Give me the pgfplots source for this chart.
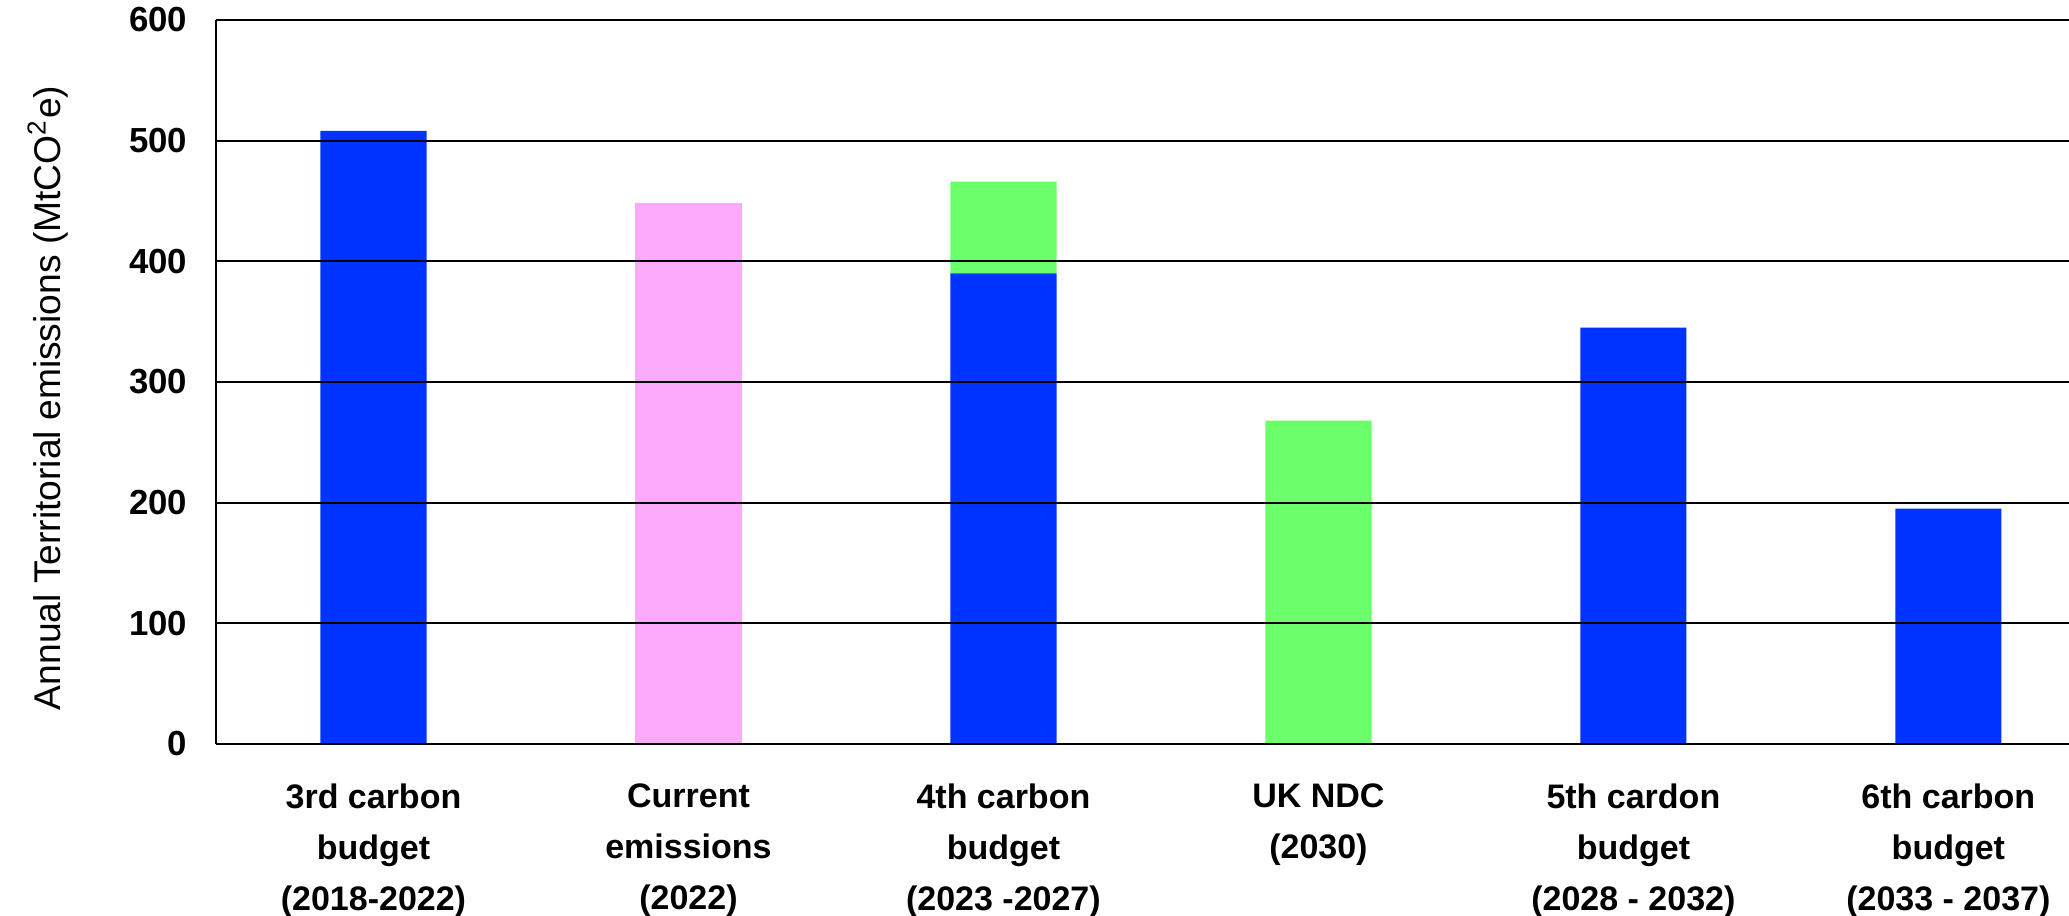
\documentclass[border=0pt]{standalone}
\usepackage{pgfplots}
\pgfplotsset{compat=1.18}
\usepackage{fontspec}
\setmainfont{Liberation Sans}

\definecolor{budgetblue}{RGB}{0,51,255}
\definecolor{currentpink}{RGB}{251,169,251}
\definecolor{ndcgreen}{RGB}{107,255,105}

\begin{document}
\begin{tikzpicture}
\begin{axis}[
  at={(0pt,0pt)}, anchor=south west,
  scale only axis,
  width=463.25pt, height=181pt,
  ybar stacked,
  bar width=0.337,
  xmin=-0.5, xmax=5.383,
  ymin=0, ymax=600,
  xtick={0,1,2,3,4,5},
  ytick={0,100,200,300,400,500,600},
  xticklabels={
    3rd carbon\\budget\\(2018-2022),
    Current\\emissions\\(2022),
    4th carbon\\budget\\(2023 -2027),
    UK NDC\\(2030),
    5th cardon\\budget\\(2028 - 2032),
    6th carbon\\budget\\(2033 - 2037)},
  axis x line*=bottom,
  axis y line*=left,
  axis line style={black, line width=0.5pt},
  ymajorgrids,
  grid style={black, line width=0.5pt},
  major tick length=0pt,
  axis on top,
  /pgf/number format/assume math mode=true,
  xticklabel style={align=center, anchor=north, yshift=-6.5pt,
    font=\bfseries\fontsize{8.5}{12.75}\selectfont},
  yticklabel style={anchor=east, xshift=-3.7pt,
    font=\bfseries\fontsize{8.7}{10}\selectfont},
  ylabel={Annual Territorial emissions (MtCO\textsuperscript{2}e)},
  every axis y label/.style={at={(axis description cs:-0.0907,0.478)},
    rotate=90, anchor=center, font=\fontsize{9.3}{11}\selectfont},
]
% carbon budgets (annualised)
\addplot[fill=budgetblue, draw=none] coordinates
  {(0,508) (1,0) (2,390) (3,0) (4,345) (5,195)};
% current emissions
\addplot[fill=currentpink, draw=none] coordinates
  {(0,0) (1,448) (2,0) (3,0) (4,0) (5,0)};
% NDC level and the gap above the 4th budget
\addplot[fill=ndcgreen, draw=none] coordinates
  {(0,0) (1,0) (2,76) (3,268) (4,0) (5,0)};
\end{axis}
\pgfresetboundingbox
\path (-54pt,-43pt) rectangle (463.25pt,186pt);
\end{tikzpicture}
\end{document}
